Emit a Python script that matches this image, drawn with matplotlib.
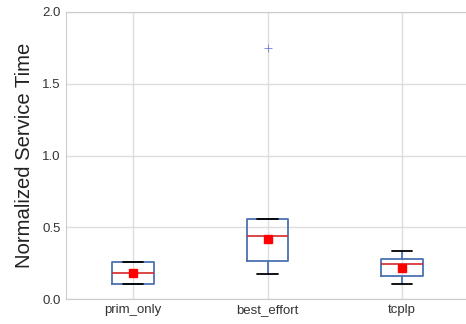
import matplotlib
matplotlib.use("Agg")
import matplotlib.pyplot as plt
import seaborn as sns

sns.set_style("whitegrid")
plt.rcParams['font.family'] = ['Liberation Sans', 'DejaVu Sans']

categories = ["prim_only", "best_effort", "tcplp"]
whisker_low = [0.107, 0.172, 0.107]
q1 = [0.107, 0.267, 0.162]
median = [0.183, 0.439, 0.242]
q3 = [0.258, 0.555, 0.279]
whisker_high = [0.260, 0.560, 0.337]
mean = [0.180, 0.416, 0.216]
fliers = [[], [1.747], []]

stats = []
for i, name in enumerate(categories):
    stats.append(dict(label=name, whislo=whisker_low[i], q1=q1[i], med=median[i],
                      q3=q3[i], whishi=whisker_high[i], mean=mean[i], fliers=fliers[i]))

fig = plt.figure(figsize=(4.66, 3.24), dpi=100)
ax = fig.add_axes([65.75 / 466, 25 / 324, 403.5 / 466, 287 / 324])

blue = "#4C72B0"
ax.bxp(stats, positions=[1, 2, 3], widths=0.31, showmeans=True,
       boxprops=dict(color=blue, linewidth=1.3),
       whiskerprops=dict(color=blue, linewidth=1.3),
       capprops=dict(color="black", linewidth=1.3),
       medianprops=dict(color="#d62728", linewidth=1.2),
       meanprops=dict(marker="s", markerfacecolor="red", markeredgecolor="red", markersize=6),
       flierprops=dict(marker="+", markeredgecolor="#6f7fe0", markersize=6, markeredgewidth=0.6))

ax.set_xlim(0.5, 3.5)
ax.set_ylim(0, 2.0)
ax.set_yticks([0.0, 0.5, 1.0, 1.5, 2.0])
ax.set_xticks([1, 2, 3])
ax.set_xticklabels(categories)
ax.tick_params(axis="both", labelsize=9.5, colors="#333333", length=0)
ax.set_ylabel("Normalized Service Time", fontsize=14.6, color="#222222", labelpad=6)
ax.grid(True, color="#dddddd", linewidth=1)
for s in ax.spines.values():
    s.set_color("#cccccc")

fig.savefig("out.png", dpi=100)
